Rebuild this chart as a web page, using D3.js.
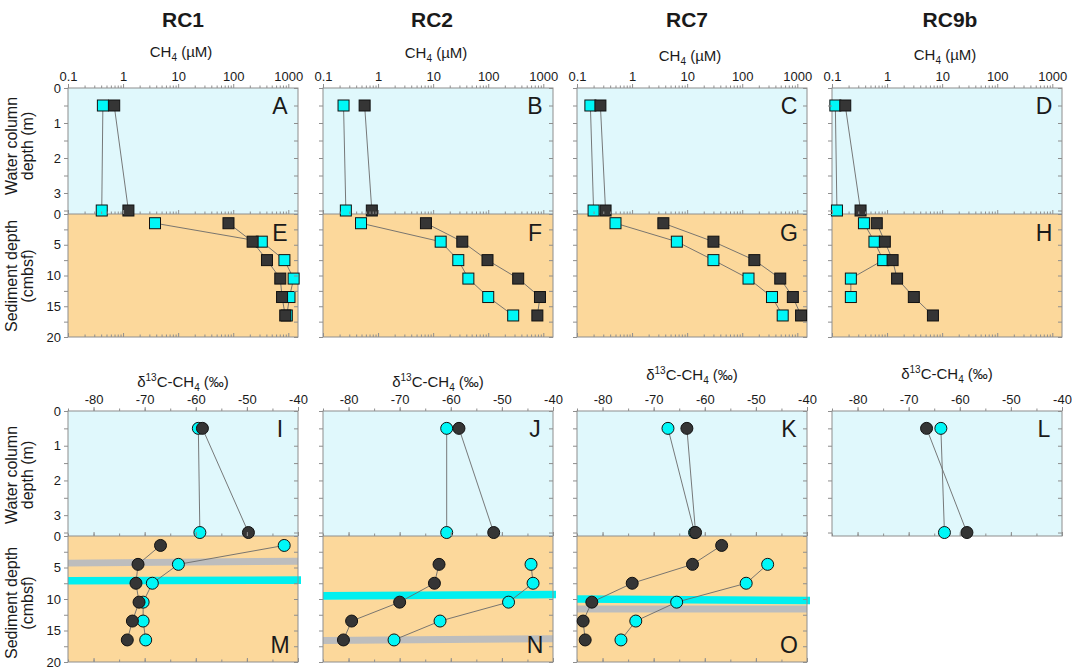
<!DOCTYPE html>
<html><head><meta charset="utf-8">
<script src="https://cdnjs.cloudflare.com/ajax/libs/d3/7.8.5/d3.min.js"></script>
<style>
body{margin:0;background:#fff}
svg{display:block}
text{font-family:Arial,"Liberation Sans",sans-serif;fill:#1a1a1a}
</style>
</head><body>
<svg id="c" width="1072" height="669"></svg>
<script>
// ---------------- DATA ----------------
const sites = ["RC1","RC2","RC7","RC9b"];
const waterLetters = ["A","B","C","D"];
const sedLetters = ["E","F","G","H"];
const isoWaterLetters = ["I","J","K","L"];
const isoSedLetters = ["M","N","O",null];
const ch4Ticks = [0.1,1,10,100,1000];
const d13Ticks = [-80,-70,-60,-50,-40];
const waterTicks = [0,1,2,3];
const sedTicks = [0,5,10,15,20];
const waterDepths = [0.5,3.5];
const sedDepths = [1.5,4.5,7.5,10.5,13.5,16.5];

// CH4 (uM) — dark squares and cyan squares
const ch4WaterDark = [[0.69,1.25],[0.57,0.77],[0.266,0.33],[0.174,0.33]];
const ch4WaterCyan = [[0.43,0.41],[0.236,0.26],[0.175,0.20],[0.115,0.123]];
const ch4SedDark = [
  [82,225,410,715,770,880],
  [7.4,33.8,97,350,870,780],
  [3.7,30,166,490,830,1170],
  [0.65,0.91,1.26,1.52,3.06,6.8]
];
const ch4SedCyan = [
  [3.8,330,850,1250,1050,940],
  [0.49,13.7,28.6,43.6,100,284],
  [0.5,6.5,30,130,347,543],
  [0.38,0.59,0.85,0.22,0.22,null]
];

// d13C-CH4 (permil) — dark circles and cyan circles
const d13WaterDark = [[-58.7,-49.7],[-58.4,-51.6],[-63.5,-61.8],[-66.5,-58.6]];
const d13WaterCyan = [[-59.5,-59.2],[-60.8,-60.8],[-67.2,-62.0],[-63.7,-63.0]];
const d13SedDark = [
  [-66.9,-71.3,-71.7,-71.1,-72.4,-73.4],
  [null,-62.3,-63.2,-70.0,-79.4,-81.0],
  [-56.7,-62.4,-74.2,-82.1,-83.8,-83.4],
  null
];
const d13SedCyan = [
  [-42.7,-63.4,-68.5,-70.3,-70.3,-69.8],
  [null,-44.3,-43.9,-48.7,-62.1,-71.1],
  [null,-47.7,-51.9,-65.5,-73.5,-76.4],
  null
];

// horizontal bands in isotope sediment panels (depth at left / right edge)
const bandSite   = [0,0,1,1,2,2];
const bandKind   = ["gray","cyan","cyan","gray","cyan","gray"];
const bandDepthL = [4.3,7.1,9.5,16.6,10.0,11.6];
const bandDepthR = [4.0,7.0,9.3,16.3,10.25,11.6];

// ---------------- LAYOUT / STYLE ----------------
const svg = d3.select("#c");
const panelLeft = [68,323,577,832], PW = 230;
const titleX = [183,432,687,950];
const rows = [
  {type:"ch4", top:88, mid:214, bot:337, labelY:[57,58,61,60]},
  {type:"d13", top:411, mid:536, bot:662, labelY:[387,387,380,379]}
];
const C = {water:"#e0f8fc", sed:"#fcd89b", frame:"#8e8e8e", line:"#6a6a6a",
           dark:"#353535", cyan:"#00f7f7", stroke:"#111", gray:"#bdbdbd", cyanBand:"#00f0f0"};
const tickFont = 13;

// titles
sites.forEach((s,i)=>{
  svg.append("text").attr("x",titleX[i]).attr("y",27).attr("text-anchor","middle")
    .attr("font-size",21).attr("font-weight","bold").text(s);
});

function styleAxis(g){
  g.selectAll("path.domain").remove();
  g.selectAll("line").attr("stroke",C.frame);
  g.selectAll("text").attr("font-size",tickFont).attr("fill","#1a1a1a")
    .style("font-family","Arial, 'Liberation Sans', sans-serif");
}

function logMinors(){
  const v=[];
  for(let e=-1;e<=3;e++) for(let m=2;m<=9;m++){const t=m*Math.pow(10,e); if(t<=1500) v.push(t);}
  return v;
}

function yLabel(lines, xs, cy){
  lines.forEach((t,k)=>{
    svg.append("text").attr("transform",`translate(${xs[k]},${cy}) rotate(-90)`)
      .attr("text-anchor","middle").attr("font-size",16).text(t);
  });
}

rows.forEach((r,ri)=>{
  sites.forEach((s,i)=>{
    const x0 = panelLeft[i], x1 = x0+PW, cx = x0+PW/2;
    const hasSed = !(r.type==="d13" && i===3);
    const x = r.type==="ch4"
      ? d3.scaleLog().domain([0.1,1500]).range([x0,x1])
      : d3.scaleLinear().domain([-85,-40]).range([x0,x1]);
    const yW = d3.scaleLinear().domain([0,3.6]).range([r.top,r.mid]);
    const yS = d3.scaleLinear().domain([0,20]).range([r.mid,r.bot]);
    const g = svg.append("g");

    // backgrounds
    g.append("rect").attr("x",x0).attr("y",r.top).attr("width",PW).attr("height",r.mid-r.top).attr("fill",C.water);
    if(hasSed) g.append("rect").attr("x",x0).attr("y",r.mid).attr("width",PW).attr("height",r.bot-r.mid).attr("fill",C.sed);

    // bands
    if(r.type==="d13"){
      bandSite.forEach((bs,b)=>{
        if(bs!==i) return;
        const th = bandKind[b]==="gray" ? 1.1 : 1.2;
        const xe = bandKind[b]==="cyan" ? x1+3 : x1;
        const pts = [[x0,yS(bandDepthL[b]-th/2)],[xe,yS(bandDepthR[b]-th/2)],
                     [xe,yS(bandDepthR[b]+th/2)],[x0,yS(bandDepthL[b]+th/2)]];
        g.append("polygon").attr("points",pts.map(p=>p.join(",")).join(" "))
          .attr("fill",bandKind[b]==="gray"?C.gray:C.cyanBand);
      });
    }

    // frame
    const bottom = hasSed ? r.bot : r.mid;
    g.append("rect").attr("x",x0).attr("y",r.top).attr("width",PW).attr("height",bottom-r.top)
      .attr("fill","none").attr("stroke",C.frame).attr("stroke-width",1);
    if(hasSed) g.append("line").attr("x1",x0).attr("x2",x1).attr("y1",r.mid).attr("y2",r.mid)
      .attr("stroke",C.frame).attr("stroke-width",1.2);

    // x axes
    const majors = r.type==="ch4" ? ch4Ticks : d13Ticks;
    const minors = r.type==="ch4" ? logMinors() : d3.range(-85,-39,5);
    const fmt = d=>String(d);
    const edges = hasSed ? [r.top, r.mid, r.bot] : [r.top, r.mid];
    edges.forEach((ey,k)=>{
      const ax = svg.append("g").attr("transform",`translate(0,${ey})`)
        .call(d3.axisTop(x).tickValues(majors).tickSize(4).tickSizeOuter(0).tickPadding(3)
          .tickFormat(k===0?fmt:()=> ""));
      styleAxis(ax);
      const am = svg.append("g").attr("transform",`translate(0,${ey})`)
        .call(d3.axisTop(x).tickValues(minors).tickSize(2.5).tickSizeOuter(0).tickFormat(()=>""));
      styleAxis(am);
    });

    // y axes
    const wMin = d3.range(0,3.6,0.5), sMin = d3.range(0,20.1,2.5);
    const ayL = svg.append("g").attr("transform",`translate(${x0},0)`)
      .call(d3.axisLeft(yW).tickValues(wMin).tickSize(4).tickSizeOuter(0).tickPadding(3)
        .tickFormat(d=> i===0 && waterTicks.includes(d) ? String(d) : ""));
    styleAxis(ayL);
    const ayR = svg.append("g").attr("transform",`translate(${x1},0)`)
      .call(d3.axisLeft(yW).tickValues(wMin).tickSize(4).tickSizeOuter(0).tickFormat(()=>""));
    styleAxis(ayR);
    if(hasSed){
      const asL = svg.append("g").attr("transform",`translate(${x0},0)`)
        .call(d3.axisLeft(yS).tickValues(sMin).tickSize(4).tickSizeOuter(0).tickPadding(3)
          .tickFormat(d=> i===0 && sedTicks.includes(d) ? String(d) : ""));
      styleAxis(asL);
      const asR = svg.append("g").attr("transform",`translate(${x1},0)`)
        .call(d3.axisLeft(yS).tickValues(sMin).tickSize(4).tickSizeOuter(0).tickFormat(()=>""));
      styleAxis(asR);
    }

    // axis title
    const t = svg.append("text").attr("x",cx-(r.type==="ch4"?2:0)).attr("y",r.labelY[i])
      .attr("text-anchor","middle").attr("font-size",15);
    if(r.type==="ch4"){
      t.append("tspan").text("CH");
      t.append("tspan").attr("font-size",10).attr("dy",4).text("4");
      t.append("tspan").attr("dy",-4).text(" (\u00b5M)");
    } else {
      t.append("tspan").text("\u03b4");
      t.append("tspan").attr("font-size",10).attr("dy",-6).text("13");
      t.append("tspan").attr("dy",6).text("C-CH");
      t.append("tspan").attr("font-size",10).attr("dy",4).text("4");
      t.append("tspan").attr("dy",-4).text(" (\u2030)");
    }

    // data series
    const wD = r.type==="ch4" ? ch4WaterDark[i] : d13WaterDark[i];
    const wC = r.type==="ch4" ? ch4WaterCyan[i] : d13WaterCyan[i];
    const sD = r.type==="ch4" ? ch4SedDark[i] : d13SedDark[i];
    const sC = r.type==="ch4" ? ch4SedCyan[i] : d13SedCyan[i];
    const series = [];
    series.push({pts: waterDepths.map((d,k)=>({v:wC[k], y:yW(d)})), col:C.cyan});
    series.push({pts: waterDepths.map((d,k)=>({v:wD[k], y:yW(d)})), col:C.dark});
    if(hasSed && sC) series.push({pts: sedDepths.map((d,k)=>({v:sC[k], y:yS(d)})), col:C.cyan});
    if(hasSed && sD) series.push({pts: sedDepths.map((d,k)=>({v:sD[k], y:yS(d)})), col:C.dark});
    const line = d3.line().defined(p=>p.v!=null).x(p=>x(p.v)).y(p=>p.y);
    series.forEach(se=>{
      g.append("path").attr("d",line(se.pts)).attr("fill","none").attr("stroke",C.line).attr("stroke-width",0.9);
    });
    const order = [0,2,1,3].filter(k=>k<series.length);
    order.forEach(k=>{
      const se = series[k];
      const pts = se.pts.filter(p=>p.v!=null);
      if(r.type==="ch4"){
        g.selectAll(null).data(pts).enter().append("rect")
          .attr("x",p=>x(p.v)-5.5).attr("y",p=>p.y-5.5).attr("width",11).attr("height",11)
          .attr("fill",se.col).attr("stroke",C.stroke).attr("stroke-width",1);
      } else {
        g.selectAll(null).data(pts).enter().append("circle")
          .attr("cx",p=>x(p.v)).attr("cy",p=>p.y).attr("r",6)
          .attr("fill",se.col).attr("stroke",C.stroke).attr("stroke-width",1);
      }
    });

    // panel letters
    const wl = r.type==="ch4" ? waterLetters[i] : isoWaterLetters[i];
    const sl = r.type==="ch4" ? sedLetters[i] : isoSedLetters[i];
    g.append("text").attr("x",x1-18).attr("y",r.top+26).attr("text-anchor","middle").attr("font-size",23).text(wl);
    if(hasSed && sl){
      const ly = r.type==="ch4" ? r.mid+27 : r.bot-9;
      g.append("text").attr("x",x1-18).attr("y",ly).attr("text-anchor","middle").attr("font-size",23).text(sl);
    }
  });
});

// y labels (left column)
yLabel(["Water column","depth (m)"],[17,33],146);
yLabel(["Sediment depth","(cmbsf)"],[17,33],276);
yLabel(["Water column","depth (m)"],[17,33],475);
yLabel(["Sediment depth","(cmbsf)"],[17,33],603);
</script>
</body></html>
